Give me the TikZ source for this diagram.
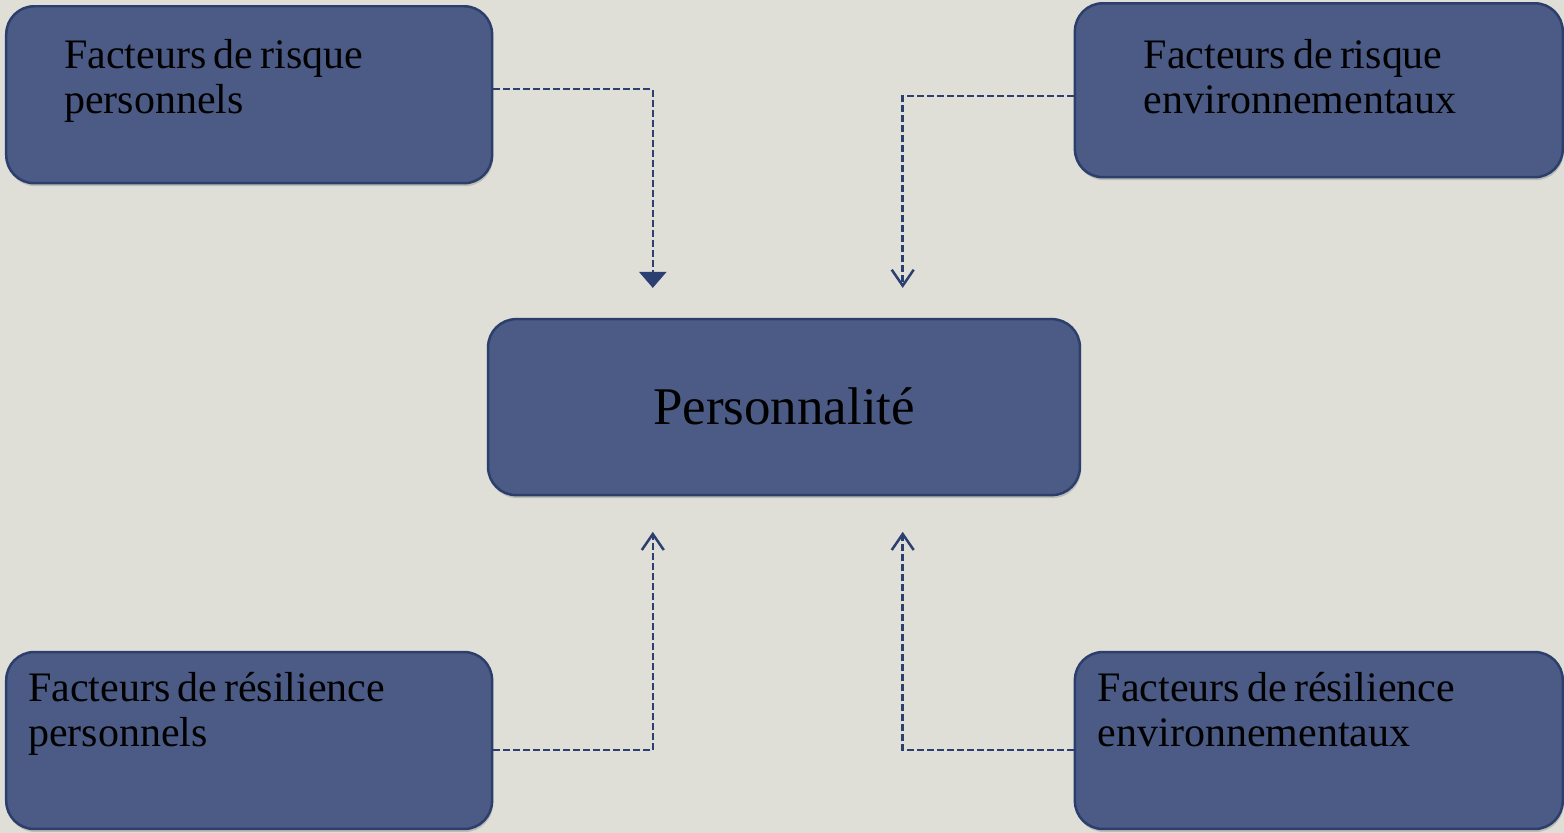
\documentclass[tikz,border=0pt]{standalone}
\usepackage{fontspec}
\setmainfont{Liberation Serif}
\usetikzlibrary{arrows.meta,shadows}
\definecolor{bgc}{HTML}{DFDFD7}
\definecolor{boxfill}{HTML}{4B5B85}
\definecolor{boxline}{HTML}{2C3F6C}
\definecolor{linkc}{HTML}{2B3F70}
\newcommand\boxfont{\fontsize{42}{45}\selectfont}

\begin{document}
\begin{tikzpicture}[x=1pt,y=-1pt,
        box/.style={draw=boxline, line width=2.5pt, fill=boxfill, rounded corners=28pt,
            inner ysep=0pt, align=left, anchor=north west, font=\boxfont,
            execute at begin node={\spaceskip=.17em\relax},
            drop shadow={shadow xshift=1pt, shadow yshift=-3pt, opacity=.35}},
        link/.style={draw=linkc, line width=2.5pt, dash pattern=on 7pt off 3pt},
        full/.style={-{Triangle[width=27pt,length=16pt]}},
        open/.style={-{Straight Barb[width=22pt,length=16pt,line width=2.5pt]}}]
        \fill[bgc] (0,0) rectangle (1564,833);

        \draw (5,5) node[box, inner xsep=58pt, text width=370pt, text height=62pt, text depth=115pt] (RP) {Facteurs de risque\\personnels};
        \draw (1074,2) node[box, inner xsep=69pt, text width=350pt, text height=65pt, text depth=109pt] (RE) {Facteurs de risque\\environnementaux};
        \draw (487,318) node[box, inner xsep=0pt, text width=592pt, align=center, font=\fontsize{53}{56}\selectfont, text height=105pt, text depth=71pt] (P) {Personnalité};
        \draw (5,651) node[box, inner xsep=22pt, text width=442pt, text height=49pt, text depth=128pt] (SP) {Facteurs de résilience\\personnels};
        \draw (1074,651) node[box, inner xsep=23pt, text width=442pt, text height=49pt, text depth=128pt] (SE) {Facteurs de résilience\\environnementaux};

        \coordinate (t1) at (653,288);
        \coordinate (t2) at (903,288);
        \coordinate (t3) at (653,532);
        \coordinate (t4) at (903,532);

        \draw[link, full] ([yshift=5.5pt]RP.east) -| (t1);
        \draw[link, open] ([yshift=-6pt]RE.west) -| (t2);
        \draw[link, open] ([yshift=-9.5pt]SP.east) -| (t3);
        \draw[link, open] ([yshift=-9.5pt]SE.west) -| (t4);
    \end{tikzpicture}
\end{document}
